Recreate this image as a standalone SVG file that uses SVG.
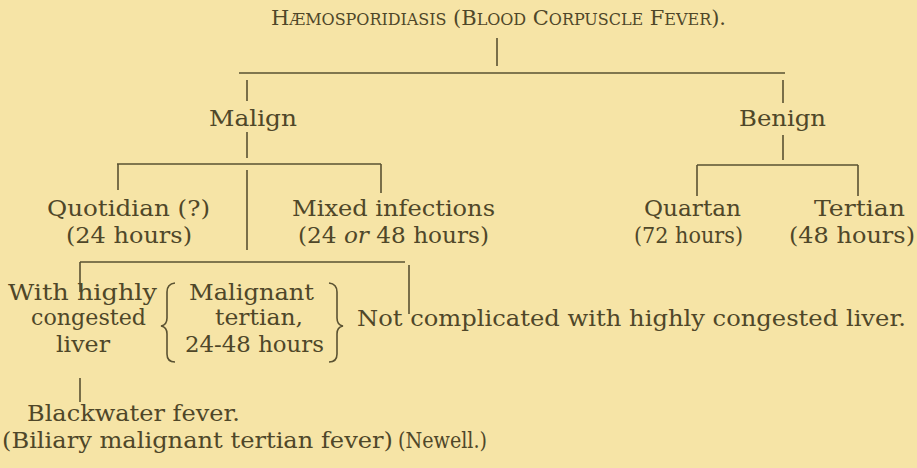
<svg xmlns="http://www.w3.org/2000/svg" width="917" height="468" viewBox="0 0 917 468">
<style>
text{font-family:"DejaVu Serif","Liberation Serif",serif;font-size:23px;fill:#4f4729}
.t{font-size:21px}
.sc{font-size:16px}
.ln{stroke:#5a5232;stroke-width:1.6;fill:none}
</style>
<rect width="917" height="468" fill="#f6e4a6"/>
<g id="connectors">
<path class="ln" d="M497 38V66M239 73H785M247 80V101M783 80V103M247 132V158M117 164H381M118 164V190M381 164V193M247 170V250M783 135V160M697 165H858M697 165V196M858 165V196M80 262H405M80 262V292M409 265V314M80 378V402"/>
<path class="ln" d="M175 283Q167 284 167 292V318Q167 325 161 326Q167 327 167 334V354Q167 362 175 362"/>
<path class="ln" d="M329 283Q337 284 337 292V318Q337 325 343 326Q337 327 337 334V354Q337 362 329 362"/>
</g>
<g id="title"><text class="t" x="271" y="25" textLength="455" lengthAdjust="spacing">H<tspan class="sc">ÆMOSPORIDIASIS</tspan> (B<tspan class="sc">LOOD</tspan> C<tspan class="sc">ORPUSCLE</tspan> F<tspan class="sc">EVER</tspan>).</text></g>
<g id="malign"><text x="209" y="126" textLength="88" lengthAdjust="spacingAndGlyphs">Malign</text></g>
<g id="benign"><text x="739" y="126" textLength="87" lengthAdjust="spacingAndGlyphs">Benign</text></g>
<g id="quotidian"><text x="47" y="216" textLength="163" lengthAdjust="spacingAndGlyphs">Quotidian  (?)</text><text x="66" y="243" textLength="126" lengthAdjust="spacingAndGlyphs">(24 hours)</text></g>
<g id="mixed"><text x="292" y="216" textLength="203" lengthAdjust="spacingAndGlyphs">Mixed infections</text><text x="298" y="243" textLength="191" lengthAdjust="spacingAndGlyphs">(24 <tspan font-style="italic">or</tspan> 48 hours)</text></g>
<g id="quartan"><text x="644" y="216" textLength="97" lengthAdjust="spacingAndGlyphs">Quartan</text><text x="634" y="243" textLength="109" lengthAdjust="spacingAndGlyphs">(72 hours)</text></g>
<g id="tertian"><text x="814" y="216" textLength="91" lengthAdjust="spacingAndGlyphs">Tertian</text><text x="789" y="243" textLength="126" lengthAdjust="spacingAndGlyphs">(48 hours)</text></g>
<g id="congested"><text x="8" y="300" textLength="149" lengthAdjust="spacingAndGlyphs">With highly</text><text x="31" y="325" textLength="115" lengthAdjust="spacingAndGlyphs">congested</text><text x="56" y="352" textLength="54" lengthAdjust="spacingAndGlyphs">liver</text></g>
<g id="malignant-tertian"><text x="189" y="300" textLength="125" lengthAdjust="spacingAndGlyphs">Malignant</text><text x="215" y="325" textLength="88" lengthAdjust="spacingAndGlyphs">tertian,</text><text x="185" y="352" textLength="139" lengthAdjust="spacingAndGlyphs">24-48 hours</text></g>
<g id="not-complicated"><text x="357" y="326" textLength="549" lengthAdjust="spacingAndGlyphs">Not complicated with highly congested liver.</text></g>
<g id="blackwater"><text x="27" y="421" textLength="213" lengthAdjust="spacingAndGlyphs">Blackwater fever.</text><text x="2" y="448" textLength="391" lengthAdjust="spacingAndGlyphs">(Biliary malignant tertian fever)</text></g>
<g id="newell"><text x="398" y="448" textLength="89" lengthAdjust="spacingAndGlyphs">(Newell.)</text></g>
</svg>
